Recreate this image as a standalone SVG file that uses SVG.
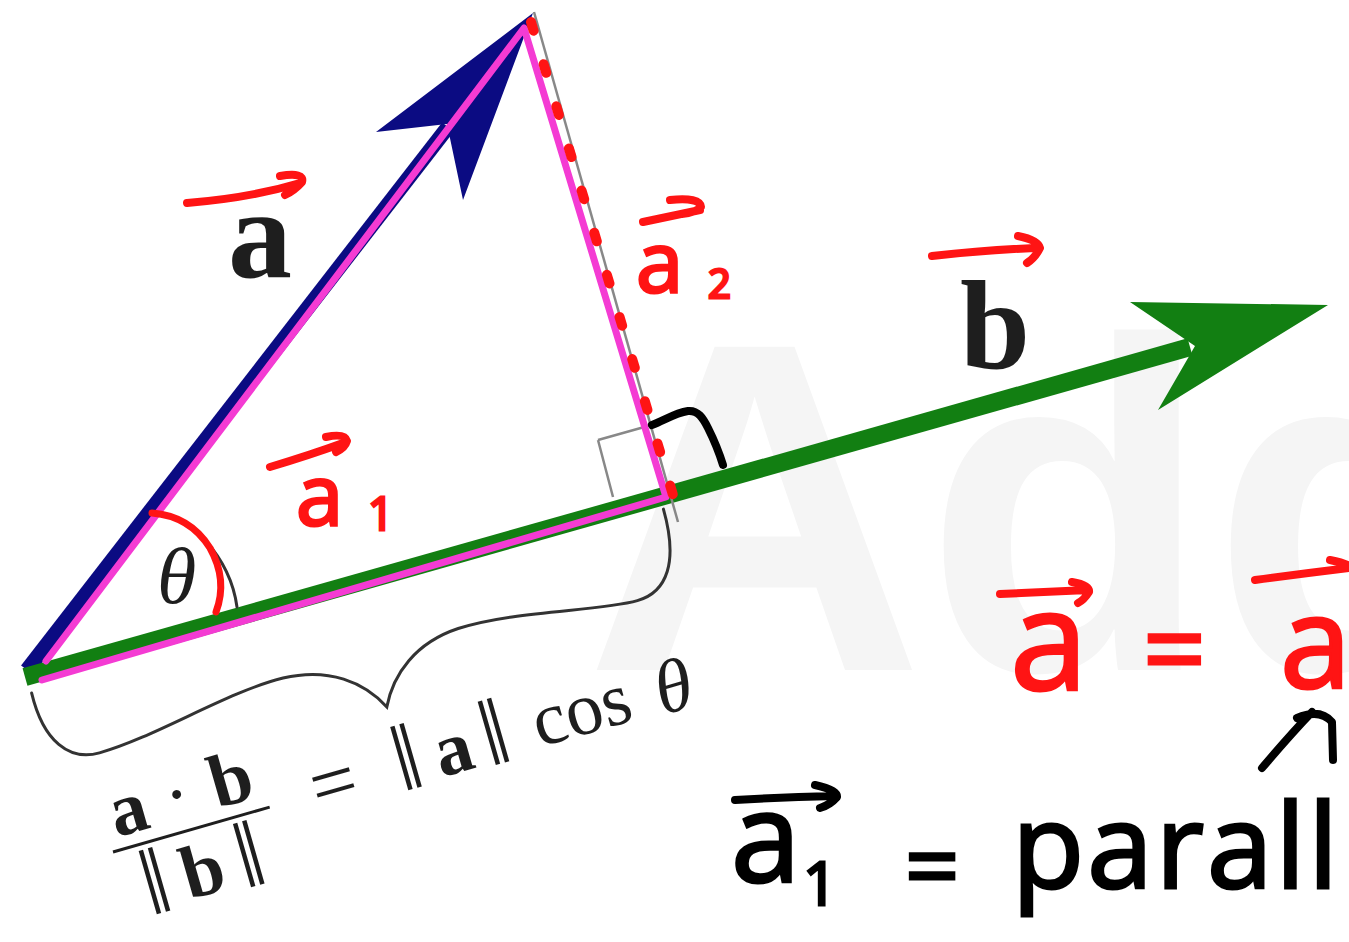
<svg xmlns="http://www.w3.org/2000/svg" width="1349" height="942" viewBox="0 0 1349 942">
<style>
.hr{fill:none;stroke:#ff1414;stroke-width:8;stroke-linecap:round;stroke-linejoin:round}
.hb{fill:none;stroke:#000;stroke-width:8;stroke-linecap:round;stroke-linejoin:round}
.txr{font-family:"Open Sans","Noto Sans",sans-serif;fill:#ff1414;stroke:#ff1414;stroke-width:3}
.txb{font-family:"Open Sans","Noto Sans",sans-serif;fill:#000;stroke:#000;stroke-width:3}
.serif{font-family:"Liberation Serif","Times New Roman",serif;fill:#1e1e1e}
.thin{fill:none;stroke:#333;stroke-width:3;stroke-linecap:round}
</style>
<rect width="1349" height="942" fill="#fff"/>
<g id="watermark">
<text x="585" y="670" font-family="Liberation Sans,Arial,sans-serif" font-weight="bold" font-size="470" fill="#f5f5f5">Add</text>
</g>
<g id="connectors">
<g id="vector-a">
<line x1="27" y1="670" x2="448" y2="127" stroke="#0b0b82" stroke-width="15"/>
<path d="M533,13 L376,132 L447,124 L463,200 Z" fill="#0b0b82"/>
</g>
<g id="vector-b">
<line x1="25" y1="677" x2="1190" y2="347" stroke="#127f12" stroke-width="18"/>
<path d="M1328,305 L1130,302 L1195,346 L1158,410 Z" fill="#127f12"/>
</g>
<g id="perpendicular">
<line x1="534" y1="12" x2="678" y2="522" stroke="#888" stroke-width="2.5"/>
<path d="M598,440 L613,497 M598,440 L655,424" fill="none" stroke="#888" stroke-width="2.5"/>
</g>
<g id="components">
<path d="M46,661 L524,28 L666,497 L42,680" fill="none" stroke="#f43bd3" stroke-width="7" stroke-linejoin="round" stroke-linecap="round"/>
<path d="M531,22 L676,505" fill="none" stroke="#ff1414" stroke-width="10" stroke-linecap="round" stroke-dasharray="9 35"/>
</g>
<g id="angle">
<path class="thin" d="M205,540 Q232,570 237,607"/>
<path d="M152,513 Q190,516 210,548 Q228,580 216,612" fill="none" stroke="#ff1414" stroke-width="7" stroke-linecap="round"/>
<path class="hb" d="M652,425 C665,420 675,413 688,411 C698,410 703,418 708,428 C714,440 719,452 723,465" stroke-width="7"/>
</g>
<g id="brace" transform="translate(27,684) rotate(-15.8)">
<path class="thin" d="M2,10 C0,60 20,86 51,86 C110,86 190,62 248,64 C295,66 325,90 340,120 C355,90 385,66 430,64 C490,62 570,86 610,86 C641,86 660,60 660,5"/>
</g>
</g>
<g id="label-theta"><text class="serif" x="157" y="603" font-style="italic" font-size="80">θ</text></g>
<g id="label-a">
<text class="serif" x="228" y="277" font-weight="bold" font-size="128" fill="#111">a</text>
<path class="hr" d="M187,203 Q250,198 300,183 M280,176 Q305,172 302,182 Q295,190 285,195"/>
</g>
<g id="label-b">
<text class="serif" x="960" y="368" font-weight="bold" font-size="126" fill="#111">b</text>
<path class="hr" d="M932,256 Q985,250 1035,248 M1018,236 Q1038,240 1040,248 Q1035,258 1027,263"/>
</g>
<g id="label-a1">
<path class="hr" d="M270,467 Q310,455 343,443 M326,437 Q345,433 347,441 Q345,448 336,452"/>
<text class="txr" x="296" y="525" font-size="85">a</text>
<text class="txr" x="368" y="530" font-size="45">1</text>
</g>
<g id="label-a2">
<path class="hr" d="M643,222 L700,210 M670,200 Q700,197 701,207 Q695,213 682,214"/>
<text class="txr" x="636" y="292" font-size="85">a</text>
<text class="txr" x="708" y="298" font-size="40">2</text>
</g>
<g id="formula" class="serif">
<g transform="translate(113,852) rotate(-16)">
<line x1="0" y1="0" x2="163" y2="0" stroke="#1e1e1e" stroke-width="3"/>
<text class="serif" x="26" y="-13" font-size="75" font-weight="bold" text-anchor="middle">a</text>
<text class="serif" x="77" y="-13" font-size="75" text-anchor="middle">·</text>
<text class="serif" x="133" y="-13" font-size="75" font-weight="bold" text-anchor="middle">b</text>
<text class="serif" x="32" y="72" font-size="95" text-anchor="middle">‖</text>
<text class="serif" x="81" y="67" font-size="75" font-weight="bold" text-anchor="middle">b</text>
<text class="serif" x="130" y="72" font-size="95" text-anchor="middle">‖</text>
<text class="serif" x="231" y="21" font-size="82" text-anchor="middle">=</text>
<text class="serif" x="308" y="22" font-size="95" text-anchor="middle">‖</text>
<text class="serif" x="355" y="19" font-size="75" font-weight="bold" text-anchor="middle">a</text>
<text class="serif" x="399" y="22" font-size="95" text-anchor="middle">‖</text>
<text class="serif" x="489" y="17" font-size="75" text-anchor="middle">cos</text>
<text class="serif" x="584" y="20" font-size="75" font-style="italic" text-anchor="middle">θ</text>
</g>
</g>
<g id="note-red">
<path class="hr" d="M1000,594 L1088,590 M1072,582 Q1090,585 1089,592 Q1084,600 1078,603"/>
<text class="txr" x="1010" y="690" font-size="140">a</text>
<text class="txr" x="1143" y="688" font-size="110">=</text>
<path class="hr" d="M1255,580 Q1300,574 1349,568 M1330,560 Q1345,563 1349,566"/>
<text class="txr" x="1280" y="688" font-size="128">a</text>
</g>
<g id="note-black">
<path class="hb" d="M1262,768 Q1290,735 1312,712 M1297,718 Q1320,708 1332,722 L1333,760"/>
<path class="hb" d="M735,800 Q785,797 835,796 M815,785 Q838,790 837,797 Q830,805 820,808"/>
<text class="txb" x="731" y="882" font-size="125">a</text>
<text class="txb" x="803" y="905" font-size="60">1</text>
<text class="txb" x="905" y="900" font-size="95">=</text>
<text class="txb" x="1012" y="888" font-size="118" letter-spacing="3">parall</text>
</g>
</svg>
